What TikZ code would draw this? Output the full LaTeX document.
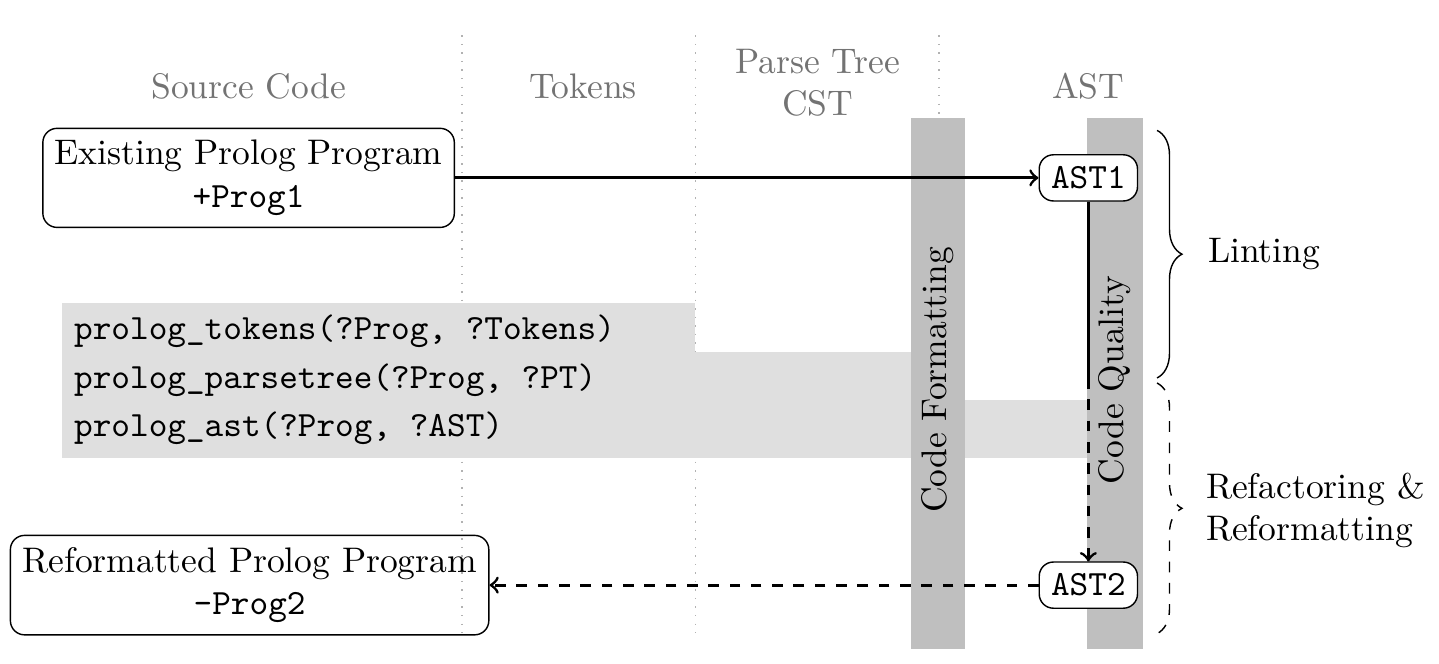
\documentclass[tikz,border=0pt]{standalone}
\usetikzlibrary{
  positioning,
  decorations.pathreplacing
}
\begin{document}
\begin{tikzpicture}[
    prog/.style = {draw, rounded corners, align=center},
    ast/.style = {draw, rounded corners, fill=white, font=\ttfamily},
    head/.style = {text=black!55, align=center},
    bar/.style = {fill=gray!50},
    row/.style = {fill=gray!25},
    call/.style = {anchor=west, font=\ttfamily},
    sep/.style = {dotted, gray!60},
    flow/.style = {thick, ->}]
  \useasboundingbox (0,0) rectangle (14.24,-6.57);
  % columns
  \draw[sep] (4.57,-0.35) -- (4.57,-6.29);
  \draw[sep] (6.88,-0.35) -- (6.88,-6.29);
  \draw[sep] (9.29,-0.35) -- (9.29,-6.29);
  \node[head] (src) at (2.46,-0.85) {Source Code};
  \node[head] (tok) at (5.77,-0.85) {Tokens};
  \node[head] (cst) at (8.09,-0.82) {Parse Tree\\CST};
  \node[head] (asth) at (10.77,-0.85) {AST};
  % predicates
  \fill[row] (0.61,-3.00) rectangle (6.88,-3.48);
  \fill[row] (0.61,-3.48) rectangle (9.01,-3.96);
  \fill[row] (0.61,-3.96) rectangle (10.76,-4.53);
  \node[call] (ptok) at (0.61,-3.28) {prolog\_tokens(?Prog, ?Tokens)};
  \node[call] (ppt) at (0.61,-3.76) {prolog\_parsetree(?Prog, ?PT)};
  \node[call] (past) at (0.61,-4.24) {prolog\_ast(?Prog, ?AST)};
  % tools
  \fill[bar] (9.01,-1.17) rectangle (9.55,-6.42);
  \fill[bar] (10.76,-1.17) rectangle (11.31,-6.42);
  \node[rotate=90] (fmt) at (9.28,-3.76) {Code Formatting};
  \node[rotate=90] (qual) at (11.03,-3.76) {Code Quality};
  % programs
  \node[prog] (prog1) at (2.46,-1.76) {Existing Prolog Program\\\texttt{+Prog1}};
  \node[prog] (prog2) at (2.47,-5.79) {Reformatted Prolog Program\\\texttt{-Prog2}};
  \node[ast] (ast1) at (10.77,-1.76) {AST1};
  \node[ast] (ast2) at (10.77,-5.79) {AST2};
  \coordinate (split) at (10.77,-3.74);
  \draw[flow] (prog1) -- (ast1);
  \draw[thick] (ast1) -- (split);
  \draw[flow, dashed] (split) -- (ast2);
  \draw[flow, dashed] (ast2) -- (prog2);
  % phases
  \coordinate (lintA) at (11.45,-1.29);
  \coordinate (lintB) at (11.45,-3.74);
  \coordinate (refA) at (11.45,-3.79);
  \coordinate (refB) at (11.45,-6.27);
  \draw[decorate, decoration={brace, amplitude=7pt}] (lintA) -- (lintB);
  \draw[dashed, decorate, decoration={brace, amplitude=7pt}] (refA) -- (refB);
  \node[anchor=west] (lint) at (11.83,-2.51) {Linting};
  \node[anchor=west, align=left] (refac) at (11.81,-5.05) {Refactoring \&\\Reformatting};
\end{tikzpicture}
\end{document}
